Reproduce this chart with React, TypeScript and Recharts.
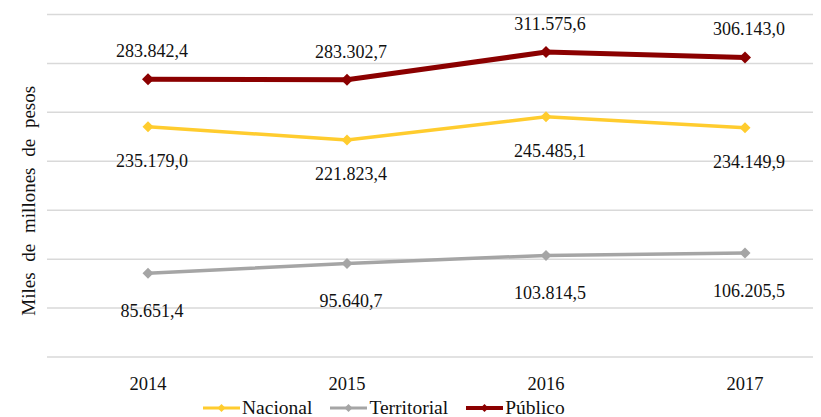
import React from 'react';
import { LineChart, Line, XAxis, YAxis, CartesianGrid, LabelList } from 'recharts';

const years = ['2014', '2015', '2016', '2017'];
const nacional = [235179.0, 221823.4, 245485.1, 234149.9];
const territorial = [85651.4, 95640.7, 103814.5, 106205.5];
const publico = [283842.4, 283302.7, 311575.6, 306143.0];
const yTicks = [0, 50000, 100000, 150000, 200000, 250000, 300000, 350000];
const yTitle = ['Miles', 'de', 'millones', 'de', 'pesos'];

const FONT = '"Liberation Serif", serif';

const series = [
  { key: 'nacional', name: 'Nacional', color: '#FFCC2E', width: 3.5, dot: 5.5, labelDy: 34 },
  { key: 'territorial', name: 'Territorial', color: '#A5A5A5', width: 3.5, dot: 5.5, labelDy: 38 },
  { key: 'publico', name: 'Público', color: '#8B0000', width: 5, dot: 6, labelDy: -28 },
];

const data = years.map((year, i) => ({
  year,
  nacional: nacional[i],
  territorial: territorial[i],
  publico: publico[i],
}));

// formato colombiano: 283.842,4
const fmt = (v: number) => {
  const [ent, dec] = v.toFixed(1).split('.');
  return ent.replace(/\B(?=(\d{3})+(?!\d))/g, '.') + ',' + dec;
};

const diamond = (color: string, r: number) => (p: any) => {
  const { cx, cy, index } = p;
  if (cx == null || cy == null) return <g key={index} />;
  return (
    <path
      key={index}
      d={`M${cx},${cy - r} L${cx + r},${cy} L${cx},${cy + r} L${cx - r},${cy} Z`}
      fill={color}
    />
  );
};

const makeLabel = (dy: number) => (p: any) => {
  const { x, y, value, index } = p;
  return (
    <text
      key={index}
      x={x + 4}
      y={y + dy}
      textAnchor="middle"
      dominantBaseline="central"
      style={{ fontFamily: FONT, fontSize: 18 }}
      fill="#111"
    >
      {fmt(value)}
    </text>
  );
};

const YLabel = (p: any) => {
  const vb = p.viewBox;
  const x = 20;
  const y = vb.y + vb.height / 2 + 15;
  return (
    <text
      x={x}
      y={y}
      transform={`rotate(-90, ${x}, ${y})`}
      textAnchor="middle"
      dominantBaseline="central"
      fill="#111"
      style={{ fontFamily: FONT, fontSize: 19 }}
    >
      {yTitle.map((w, i) => (
        <tspan key={i} dx={i === 0 ? 0 : 6}>
          {(i === 0 ? '' : ' ') + w}
        </tspan>
      ))}
    </text>
  );
};

const LegendIcon: React.FC<{ color: string; width: number }> = ({ color, width }) => (
  <svg width={37} height={12} style={{ display: 'block' }}>
    <line x1={0} y1={6} x2={37} y2={6} stroke={color} strokeWidth={width} />
    <path d="M18.5,2 L22.5,6 L18.5,10 L14.5,6 Z" fill={color} />
  </svg>
);

export default function App() {
  return (
    <div style={{ position: 'relative', width: 813, height: 409, fontFamily: FONT }}>
      <LineChart
        width={813}
        height={409}
        data={data}
        margin={{ top: 6.5, right: 0, left: 0, bottom: 30 }}
        style={{ fontFamily: FONT }}
      >
        <CartesianGrid vertical={false} stroke="#D9D9D9" strokeWidth={1.5} />
        <XAxis
          dataKey="year"
          axisLine={false}
          tickLine={false}
          tickSize={0}
          tickMargin={20}
          padding={{ left: 101, right: 76 }}
          tick={{ fontFamily: FONT, fontSize: 18.5, fill: '#111' }}
        />
        <YAxis
          width={39}
          domain={[0, 350000]}
          ticks={yTicks}
          tick={{ fontSize: 0, fill: 'transparent' }}
          tickFormatter={() => ''}
          axisLine={false}
          tickLine={false}
          label={<YLabel />}
        />
        {series.map((s) => (
          <Line
            key={s.key}
            dataKey={s.key}
            name={s.name}
            stroke={s.color}
            strokeWidth={s.width}
            dot={diamond(s.color, s.dot)}
            activeDot={false}
            isAnimationActive={false}
          >
            <LabelList dataKey={s.key} content={makeLabel(s.labelDy)} />
          </Line>
        ))}
      </LineChart>
      <div
        style={{
          position: 'absolute',
          left: 195,
          top: 391,
          display: 'flex',
          alignItems: 'center',
          gap: 18,
          fontSize: 19.5,
          color: '#111',
          lineHeight: '18px',
        }}
      >
        {series.map((s) => (
          <div key={s.key} style={{ display: 'flex', alignItems: 'center', gap: 2 }}>
            <LegendIcon color={s.color} width={s.key === 'publico' ? 4 : 3} />
            <span>{s.name}</span>
          </div>
        ))}
      </div>
    </div>
  );
}
